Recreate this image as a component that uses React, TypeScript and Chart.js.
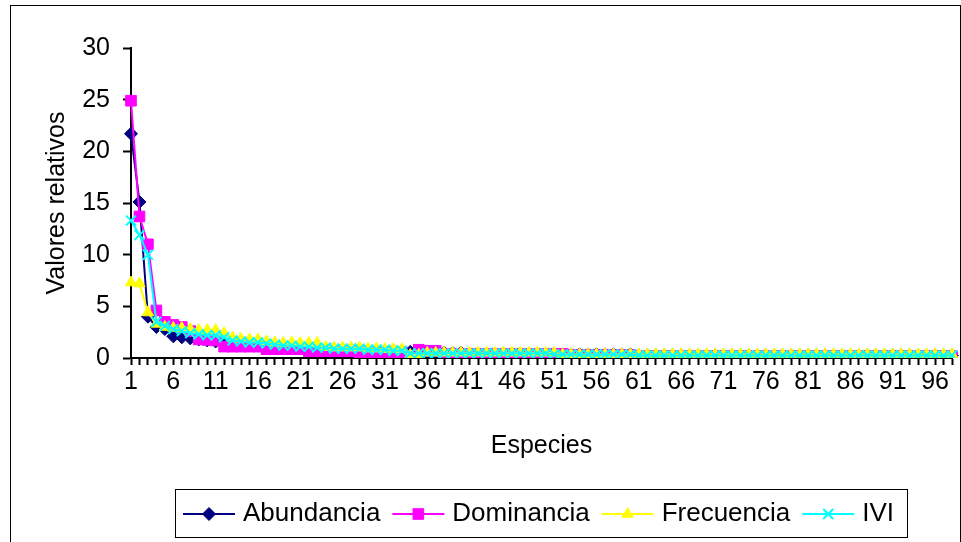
import React, { useEffect, useRef } from "react";
import { Chart, registerables } from "chart.js";

Chart.register(...registerables);

const FONT = '"Liberation Sans", Arial, sans-serif';

const categories: string[] = Array.from({ length: 98 }, (_, i) => String(i + 1));

const yTicks = [0, 5, 10, 15, 20, 25, 30];

const abundancia = [
  21.7, 15.1, 4.0, 3.0, 2.8, 2.1, 2.0, 1.9, 1.8, 1.7,
  1.6, 1.5, 1.4, 1.4, 1.3, 1.2, 1.2, 1.1, 1.1, 1.1,
  1.0, 1.0, 1.0, 0.8, 0.8, 0.8, 0.8, 0.8, 0.7, 0.7,
  0.7, 0.7, 0.7, 0.6, 0.5, 0.5, 0.5, 0.5, 0.5, 0.5,
  0.35, 0.35, 0.35, 0.35, 0.35, 0.35, 0.35, 0.35, 0.35, 0.35,
  0.35, 0.35, 0.35, 0.35, 0.35, 0.35, 0.35, 0.35, 0.35, 0.35,
  0.25, 0.25, 0.25, 0.25, 0.25, 0.25, 0.25, 0.25, 0.25, 0.25,
  0.25, 0.25, 0.25, 0.25, 0.25, 0.25, 0.25, 0.25, 0.25, 0.25,
  0.25, 0.25, 0.25, 0.25, 0.25, 0.25, 0.25, 0.25, 0.25, 0.25,
  0.25, 0.25, 0.25, 0.25, 0.25, 0.25, 0.25, 0.25,
];

const dominancia = [
  24.9, 13.7, 11.0, 4.6, 3.5, 3.2, 3.0, 2.6, 1.8, 1.75,
  1.7, 1.1, 1.1, 1.1, 1.1, 1.1, 0.85, 0.85, 0.85, 0.85,
  0.85, 0.65, 0.65, 0.65, 0.65, 0.65, 0.65, 0.55, 0.55, 0.55,
  0.55, 0.55, 0.55, 0.2, 0.8, 0.7, 0.7, 0.4, 0.4, 0.4,
  0.4, 0.4, 0.4, 0.4, 0.4, 0.4, 0.4, 0.4, 0.4, 0.4,
  0.4, 0.4, 0.3, 0.3, 0.3, 0.3, 0.3, 0.3, 0.3, 0.3,
  0.18, 0.18, 0.18, 0.18, 0.18, 0.18, 0.18, 0.18, 0.18, 0.18,
  0.18, 0.18, 0.18, 0.18, 0.18, 0.18, 0.18, 0.18, 0.18, 0.18,
  0.18, 0.18, 0.18, 0.18, 0.18, 0.18, 0.18, 0.18, 0.18, 0.18,
  0.18, 0.18, 0.18, 0.18, 0.18, 0.18, 0.18, 0.18,
];

const frecuencia = [
  7.3, 7.2, 4.4, 3.3, 3.0, 2.9, 2.9, 2.8, 2.7, 2.7,
  2.7, 2.4, 1.95, 1.85, 1.8, 1.8, 1.6, 1.5, 1.45, 1.5,
  1.45, 1.45, 1.45, 1.05, 1.0, 1.0, 1.0, 1.0, 0.9, 0.9,
  0.85, 0.85, 0.85, 0.3, 0.3, 0.5, 0.5, 0.5, 0.5, 0.5,
  0.5, 0.5, 0.5, 0.5, 0.5, 0.5, 0.5, 0.5, 0.5, 0.5,
  0.5, 0.35, 0.35, 0.35, 0.35, 0.35, 0.35, 0.35, 0.35, 0.35,
  0.35, 0.35, 0.35, 0.35, 0.35, 0.35, 0.35, 0.35, 0.35, 0.35,
  0.35, 0.35, 0.35, 0.35, 0.35, 0.35, 0.35, 0.35, 0.35, 0.35,
  0.35, 0.35, 0.35, 0.35, 0.35, 0.35, 0.35, 0.35, 0.35, 0.35,
  0.35, 0.35, 0.35, 0.35, 0.35, 0.35, 0.35, 0.35,
];

const ivi = [
  13.3, 11.9, 10.0, 3.5, 3.1, 2.8, 2.6, 2.4, 2.3, 2.2,
  2.2, 2.0, 1.7, 1.6, 1.5, 1.5, 1.4, 1.3, 1.2, 1.2,
  1.1, 1.1, 1.0, 1.0, 0.9, 0.9, 0.9, 0.9, 0.8, 0.8,
  0.8, 0.7, 0.7, 0.45, 0.45, 0.45, 0.45, 0.45, 0.45, 0.45,
  0.45, 0.45, 0.45, 0.45, 0.45, 0.45, 0.45, 0.45, 0.45, 0.45,
  0.35, 0.35, 0.35, 0.35, 0.35, 0.35, 0.35, 0.35, 0.35, 0.35,
  0.25, 0.25, 0.25, 0.25, 0.25, 0.25, 0.25, 0.25, 0.25, 0.25,
  0.25, 0.25, 0.25, 0.25, 0.25, 0.25, 0.25, 0.25, 0.25, 0.25,
  0.25, 0.25, 0.25, 0.25, 0.25, 0.25, 0.25, 0.25, 0.25, 0.25,
  0.25, 0.25, 0.25, 0.25, 0.25, 0.25, 0.25, 0.25,
];

const seriesLabels = ["Abundancia", "Dominancia", "Frecuencia", "IVI"];
const seriesColors = ["#000080", "#FF00FF", "#FFFF00", "#00FFFF"];
const seriesStyles = ["rectRot", "rect", "triangle", "crossRot"];
const seriesRadius = [6.5, 7.5, 6.5, 7];

function drawMarker(ctx: CanvasRenderingContext2D, style: string, x: number, y: number, r: number, color: string) {
  ctx.save();
  ctx.fillStyle = color;
  ctx.strokeStyle = color;
  ctx.lineWidth = 1;
  ctx.beginPath();
  if (style === "rectRot") {
    ctx.moveTo(x, y - r);
    ctx.lineTo(x + r, y);
    ctx.lineTo(x, y + r);
    ctx.lineTo(x - r, y);
    ctx.closePath();
    ctx.fill();
    ctx.stroke();
  } else if (style === "rect") {
    const s = r * Math.SQRT1_2;
    ctx.rect(x - s, y - s, 2 * s, 2 * s);
    ctx.fill();
    ctx.stroke();
  } else if (style === "triangle") {
    const a = (2 * Math.PI) / 3;
    ctx.moveTo(x, y - r);
    ctx.lineTo(x + Math.sin(a) * r, y - Math.cos(a) * r);
    ctx.lineTo(x + Math.sin(2 * a) * r, y - Math.cos(2 * a) * r);
    ctx.closePath();
    ctx.fill();
    ctx.stroke();
  } else {
    const s = r * Math.SQRT1_2;
    ctx.lineWidth = 2;
    ctx.moveTo(x - s, y - s);
    ctx.lineTo(x + s, y + s);
    ctx.moveTo(x + s, y - s);
    ctx.lineTo(x - s, y + s);
    ctx.stroke();
  }
  ctx.restore();
}

const framePlugin = {
  id: "frame",
  beforeDraw(chart: any) {
    const ctx = chart.ctx as CanvasRenderingContext2D;
    ctx.save();
    ctx.fillStyle = "#fff";
    ctx.fillRect(0, 0, chart.width, chart.height);
    ctx.strokeStyle = "#000";
    ctx.lineWidth = 1;
    ctx.strokeRect(10.5, 5.5, 950, 540);
    ctx.restore();
  },
};

const legendPlugin = {
  id: "excelLegend",
  afterDraw(chart: any) {
    const ctx = chart.ctx as CanvasRenderingContext2D;
    ctx.save();
    ctx.strokeStyle = "#000";
    ctx.lineWidth = 1;
    ctx.strokeRect(175.5, 489.5, 732, 48);
    ctx.font = `26px ${FONT}`;
    ctx.textBaseline = "middle";
    ctx.textAlign = "left";
    let x = 183;
    const y = 514;
    chart.data.datasets.forEach((ds: any, i: number) => {
      ctx.strokeStyle = seriesColors[i];
      ctx.lineWidth = 2;
      ctx.beginPath();
      ctx.moveTo(x, y);
      ctx.lineTo(x + 52, y);
      ctx.stroke();
      drawMarker(ctx, seriesStyles[i], x + 26, y, seriesRadius[i], seriesColors[i]);
      ctx.fillStyle = "#000";
      ctx.fillText(ds.label, x + 60, y);
      x += 60 + ctx.measureText(ds.label).width + 12;
    });
    ctx.restore();
  },
};

export default function App() {
  const canvasRef = useRef<HTMLCanvasElement | null>(null);

  useEffect(() => {
    document.body.style.margin = "0";
    const canvas = canvasRef.current;
    if (!canvas) return;
    const seriesData = [abundancia, dominancia, frecuencia, ivi];
    const font = { family: FONT, size: 25 };
    const chart = new Chart(canvas, {
      type: "line",
      data: {
        labels: categories,
        datasets: seriesData.map((d, i) => ({
          label: seriesLabels[i],
          data: d,
          borderColor: seriesColors[i],
          backgroundColor: seriesColors[i],
          borderWidth: 2,
          pointStyle: seriesStyles[i] as any,
          pointRadius: seriesRadius[i],
          pointBackgroundColor: seriesColors[i],
          pointBorderColor: seriesColors[i],
          pointBorderWidth: i === 3 ? 2 : 1,
          tension: 0,
          fill: false,
          order: 3 - i,
        })),
      },
      options: {
        animation: false,
        responsive: false,
        maintainAspectRatio: false,
        events: [],
        layout: { padding: { left: 10, top: 48, right: 5, bottom: 74 } },
        plugins: {
          legend: { display: false },
          tooltip: { enabled: false },
        },
        scales: {
          x: {
            type: "category",
            offset: false,
            grid: {
              display: true,
              drawOnChartArea: false,
              drawTicks: true,
              tickLength: 7,
              tickColor: "#000",
              tickWidth: 2,
              color: "#000",
            },
            border: { display: true, color: "#000", width: 2 },
            ticks: {
              autoSkip: false,
              maxRotation: 0,
              minRotation: 0,
              color: "#000",
              font,
              padding: 2,
              callback: (_v: any, i: number) => (i % 5 === 0 ? categories[i] : ""),
            },
            title: {
              display: true,
              text: "Especies",
              color: "#000",
              font,
              padding: { top: 0, bottom: 7 },
            },
            afterFit: (s: any) => {
              s.height = 110;
            },
          },
          y: {
            min: yTicks[0],
            max: yTicks[yTicks.length - 1],
            grid: {
              display: true,
              drawOnChartArea: false,
              drawTicks: true,
              tickLength: 8,
              tickColor: "#000",
              tickWidth: 2,
              color: "#000",
            },
            border: { display: true, color: "#000", width: 2 },
            ticks: {
              stepSize: 5,
              color: "#000",
              font,
              padding: 13,
            },
            afterBuildTicks: (s: any) => {
              s.ticks = yTicks.map((v) => ({ value: v }));
            },
            title: {
              display: true,
              text: "Valores relativos",
              color: "#000",
              font,
              padding: { top: 32, bottom: 0 },
            },
            afterFit: (s: any) => {
              s.width = 121;
            },
          },
        },
      },
      plugins: [framePlugin, legendPlugin],
    });
    return () => chart.destroy();
  }, []);

  return (
    <div style={{ width: 961, height: 542 }}>
      <canvas ref={canvasRef} width={961} height={542} style={{ display: "block" }} />
    </div>
  );
}
